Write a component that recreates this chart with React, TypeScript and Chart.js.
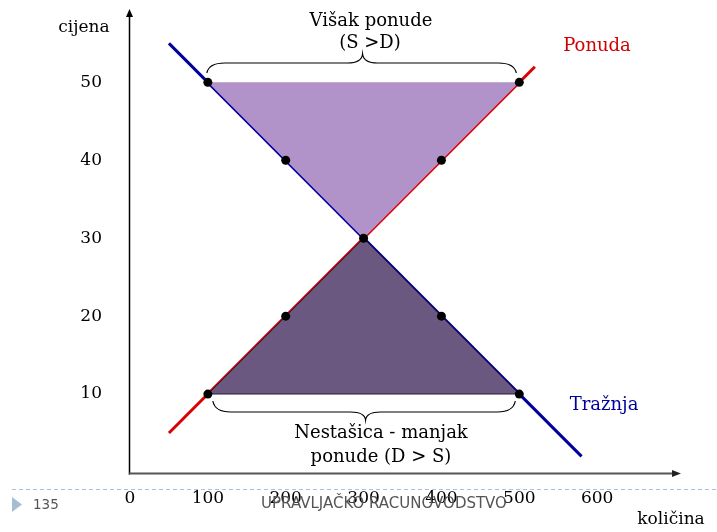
import React, { useEffect, useRef } from 'react';
import { Chart, registerables } from 'chart.js';

Chart.register(...registerables);

// ---- data ----
const xTicks = [0, 100, 200, 300, 400, 500, 600];
const yTicks = [10, 20, 30, 40, 50];
const demandLine = [{ x: 50, y: 55 }, { x: 580, y: 2 }];
const supplyLine = [{ x: 50, y: 5 }, { x: 520, y: 52 }];
const demandPoints = [{ x: 100, y: 50 }, { x: 200, y: 40 }, { x: 300, y: 30 }, { x: 400, y: 20 }, { x: 500, y: 10 }];
const supplyPoints = [{ x: 100, y: 10 }, { x: 200, y: 20 }, { x: 400, y: 40 }, { x: 500, y: 50 }];
const surplusArea = [{ x: 100, y: 50 }, { x: 500, y: 50 }, { x: 300, y: 30 }, { x: 100, y: 50 }];
const shortageArea = [{ x: 100, y: 10 }, { x: 500, y: 10 }, { x: 300, y: 30 }, { x: 100, y: 10 }];

const SERIF = '"DejaVu Serif", serif';
const SANS = '"DejaVu Sans", sans-serif';

function brace(ctx: CanvasRenderingContext2D, x1: number, x2: number, xm: number, yEnd: number, yLine: number, yTip: number) {
  const r = 18, r2 = 15;
  ctx.beginPath();
  ctx.moveTo(x1, yEnd);
  ctx.quadraticCurveTo(x1 + 2, yLine, x1 + r, yLine);
  ctx.lineTo(xm - r2, yLine);
  ctx.quadraticCurveTo(xm - 1, yLine, xm, yTip);
  ctx.quadraticCurveTo(xm + 1, yLine, xm + r2, yLine);
  ctx.lineTo(x2 - r, yLine);
  ctx.quadraticCurveTo(x2 - 2, yLine, x2, yEnd);
  ctx.stroke();
}

const decor = {
  id: 'decor',
  afterDraw(chart: any) {
    const ctx: CanvasRenderingContext2D = chart.ctx;
    const xs = chart.scales.x;
    const ys = chart.scales.y;
    const ox = xs.getPixelForValue(0) - 0.5;
    const oy = ys.getPixelForValue(0) + 1.5;
    ctx.save();
    // vertical axis
    ctx.strokeStyle = '#000';
    ctx.lineWidth = 1.5;
    ctx.beginPath();
    ctx.moveTo(ox, oy + 1);
    ctx.lineTo(ox, 16);
    ctx.stroke();
    ctx.fillStyle = '#000';
    ctx.beginPath();
    ctx.moveTo(ox, 9);
    ctx.lineTo(ox - 3.5, 17);
    ctx.lineTo(ox + 3.5, 17);
    ctx.closePath();
    ctx.fill();
    // horizontal axis
    ctx.strokeStyle = '#555';
    ctx.lineWidth = 2;
    ctx.beginPath();
    ctx.moveTo(ox - 0.75, oy);
    ctx.lineTo(674, oy);
    ctx.stroke();
    ctx.fillStyle = '#222';
    ctx.beginPath();
    ctx.moveTo(681, oy);
    ctx.lineTo(672, oy - 3.5);
    ctx.lineTo(672, oy + 3.5);
    ctx.closePath();
    ctx.fill();

    // braces
    ctx.strokeStyle = '#000';
    ctx.lineWidth = 1.2;
    const p100 = xs.getPixelForValue(100);
    const p300 = xs.getPixelForValue(300);
    const p500 = xs.getPixelForValue(500);
    brace(ctx, p100 - 1, p500 - 3, p300 - 1, 73, 63, 54);
    brace(ctx, p100 + 5, p500 - 4, p300 + 2, 401, 412, 420);

    // texts
    ctx.textBaseline = 'alphabetic';
    ctx.textAlign = 'center';
    ctx.fillStyle = '#000';
    ctx.font = `18px ${SERIF}`;
    ctx.fillText('Višak ponude', 371, 26);
    ctx.fillText('(S >D)', 370, 48);
    ctx.fillText('Nestašica - manjak', 381, 438);
    ctx.fillText('ponude (D > S)', 381, 462);
    ctx.font = `17px ${SERIF}`;
    ctx.fillText('cijena', 84, 32);
    ctx.fillText('količina', 671, 524);
    ctx.font = `18px ${SERIF}`;
    ctx.fillStyle = '#d00000';
    ctx.fillText('Ponuda', 597, 51);
    ctx.fillStyle = '#0000a0';
    ctx.fillText('Tražnja', 604, 410);

    // footer
    ctx.strokeStyle = '#a9c3da';
    ctx.lineWidth = 1;
    ctx.setLineDash([4, 3]);
    ctx.beginPath();
    ctx.moveTo(12, 489.5);
    ctx.lineTo(717, 489.5);
    ctx.stroke();
    ctx.setLineDash([]);
    ctx.fillStyle = '#a6bdd5';
    ctx.beginPath();
    ctx.moveTo(12, 497);
    ctx.lineTo(22, 504.5);
    ctx.lineTo(12, 512);
    ctx.closePath();
    ctx.fill();
    ctx.fillStyle = '#555';
    ctx.font = `13.5px ${SANS}`;
    ctx.textAlign = 'left';
    ctx.fillText('135', 33, 509);
    ctx.textAlign = 'center';
    ctx.font = `15px ${SANS}`;
    ctx.fillText('UPRAVLJAČKO RACUNOVODSTVO', 384, 508);
    ctx.restore();
  },
};

export default function App() {
  const ref = useRef<HTMLCanvasElement | null>(null);
  useEffect(() => {
    if (!ref.current) return;
    const chart = new Chart(ref.current, {
      type: 'line',
      data: {
        datasets: [
          { data: demandPoints, showLine: false, pointRadius: 4.5, pointBackgroundColor: '#000', pointBorderColor: '#000', pointBorderWidth: 0 },
          { data: supplyPoints, showLine: false, pointRadius: 4.5, pointBackgroundColor: '#000', pointBorderColor: '#000', pointBorderWidth: 0 },
          { data: surplusArea, fill: 'shape', backgroundColor: '#b193ca', borderColor: 'rgba(0,0,0,0)', borderWidth: 1, pointRadius: 0, tension: 0 },
          { data: shortageArea, fill: 'shape', backgroundColor: '#6a5880', borderColor: 'rgba(20,10,30,0.85)', borderWidth: 1, pointRadius: 0, tension: 0 },
          { data: demandLine, borderColor: '#00009c', borderWidth: 3, pointRadius: 0, fill: false, tension: 0 },
          { data: supplyLine, borderColor: '#dd0000', borderWidth: 3, pointRadius: 0, fill: false, tension: 0 },
        ],
      },
      options: {
        responsive: false,
        animation: false,
        layout: { padding: { left: 78, right: 42, top: 20, bottom: 0 } },
        plugins: { legend: { display: false }, tooltip: { enabled: false } },
        scales: {
          x: {
            type: 'linear',
            min: 0,
            max: 700,
            grid: { display: false, drawTicks: false },
            border: { display: false },
            ticks: { font: { family: SERIF, size: 17 }, color: '#000', padding: 16, maxRotation: 0, autoSkip: false },
            afterBuildTicks: (s: any) => { s.ticks = xTicks.map((v) => ({ value: v })); },
            afterFit: (s: any) => { s.height = 60; s.paddingLeft = 0; s.paddingRight = 0; },
          },
          y: {
            type: 'linear',
            min: 0,
            max: 58,
            grid: { display: false, drawTicks: false },
            border: { display: false },
            ticks: { font: { family: SERIF, size: 17 }, color: '#000', padding: 28, autoSkip: false },
            afterBuildTicks: (s: any) => { s.ticks = yTicks.map((v) => ({ value: v })); },
            afterFit: (s: any) => { s.width = 52; s.paddingTop = 0; s.paddingBottom = 0; },
          },
        },
      },
      plugins: [decor],
    } as any);
    return () => chart.destroy();
  }, []);
  return (
    <div style={{ position: 'fixed', left: 0, top: 0, width: 717, height: 532, background: '#fff' }}>
      <canvas ref={ref} width={717} height={532} style={{ display: 'block' }} />
    </div>
  );
}
